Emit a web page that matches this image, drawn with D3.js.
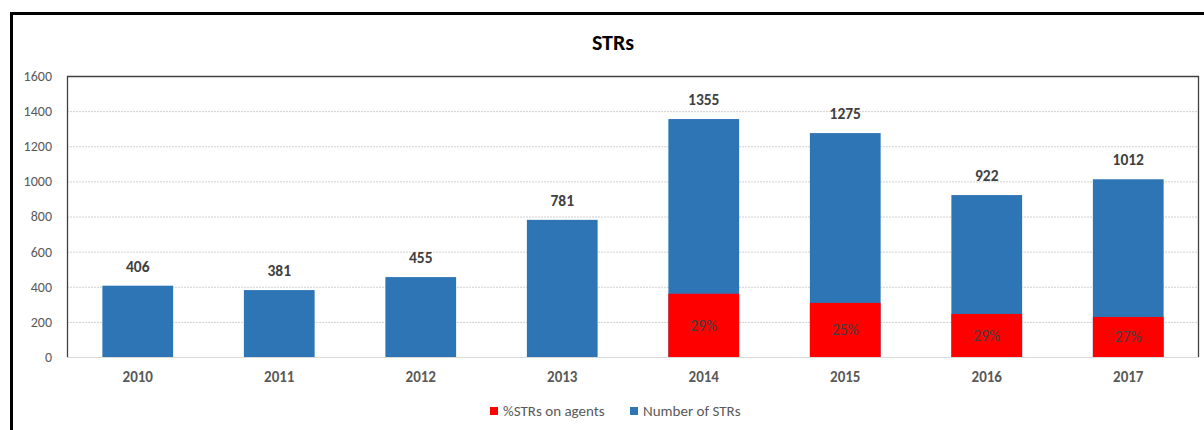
<!DOCTYPE html>
<html>
<head>
<meta charset="utf-8">
<script src="https://cdn.jsdelivr.net/npm/d3@7"></script>
<style>
  body { margin: 0; background: #fff; }
  svg text { font-family: Calibri, Carlito, Lato, "Open Sans", sans-serif; }
</style>
</head>
<body>
<div id="chart"></div>
<script>
const years = ['2010', '2011', '2012', '2013', '2014', '2015', '2016', '2017'];
const strCounts = [406, 381, 455, 781, 1355, 1275, 922, 1012];
// red part is drawn at the height shown in the picture, labelled with the percentage
const agentValues = [0, 0, 0, 0, 360, 308, 245, 228];
const agentLabels = ['', '', '', '', '29%', '25%', '29%', '27%'];
const yTicks = [0, 200, 400, 600, 800, 1000, 1200, 1400, 1600];

const W = 1204, H = 430;
const plot = {left: 67, right: 1199, top: 76, bottom: 357};
const font = 'Calibri, Carlito, Lato, "Open Sans", sans-serif';

const svg = d3.select('#chart').append('svg')
  .attr('width', W)
  .attr('height', H);

// outer frame (black, top and left only)
svg.append('rect').attr('x', 10).attr('y', 12).attr('width', W - 10).attr('height', 3).attr('fill', '#000');
svg.append('rect').attr('x', 10).attr('y', 12).attr('width', 3).attr('height', H - 12).attr('fill', '#000');

svg.append('text')
  .attr('x', 613)
  .attr('y', 50)
  .attr('text-anchor', 'middle')
  .attr('font-size', 22)
  .attr('font-weight', 'bold')
  .attr('fill', '#000')
  .text('STRs');

const x = d3.scaleBand()
  .domain(years)
  .range([plot.left, plot.right])
  .paddingInner(0.5)
  .paddingOuter(0.25);

const y = d3.scaleLinear()
  .domain([0, 1600])
  .range([plot.bottom, plot.top]);

// gridlines
svg.append('g')
  .selectAll('line')
  .data(yTicks.filter(d => d > 0 && d < 1600))
  .join('line')
  .attr('x1', plot.left)
  .attr('x2', plot.right)
  .attr('y1', d => y(d) + 0.5)
  .attr('y2', d => y(d) + 0.5)
  .attr('stroke', '#d0d0d0')
  .attr('stroke-dasharray', '2,1');

// y axis labels
const yAxis = d3.axisLeft(y).tickValues(yTicks).tickFormat(d3.format('d')).tickSize(0).tickPadding(15);
const gy = svg.append('g')
  .attr('transform', `translate(${plot.left},0)`)
  .call(yAxis);
gy.select('.domain').remove();
gy.selectAll('text')
  .attr('font-size', 14)
  .attr('fill', '#595959')
  .style('font-family', font);

// bars
svg.append('g')
  .selectAll('rect')
  .data(strCounts)
  .join('rect')
  .attr('x', (d, i) => x(years[i]))
  .attr('y', d => y(d))
  .attr('width', x.bandwidth())
  .attr('height', d => plot.bottom - y(d))
  .attr('fill', '#2E75B6');

svg.append('g')
  .selectAll('rect')
  .data(agentValues)
  .join('rect')
  .attr('x', (d, i) => x(years[i]))
  .attr('y', d => y(d))
  .attr('width', x.bandwidth())
  .attr('height', d => plot.bottom - y(d))
  .attr('fill', '#FF0000');

// value labels
svg.append('g')
  .selectAll('text')
  .data(strCounts)
  .join('text')
  .attr('x', (d, i) => x(years[i]) + x.bandwidth() / 2)
  .attr('y', d => y(d) - 14)
  .attr('text-anchor', 'middle')
  .attr('font-size', 15.5)
  .attr('font-weight', 'bold')
  .attr('fill', '#404040')
  .text(d => d);

svg.append('g')
  .selectAll('text')
  .data(agentValues)
  .join('text')
  .attr('x', (d, i) => x(years[i]) + x.bandwidth() / 2)
  .attr('y', d => (y(d) + plot.bottom) / 2 + 5.5)
  .attr('text-anchor', 'middle')
  .attr('font-size', 15.5)
  .attr('fill', '#404040')
  .text((d, i) => agentLabels[i]);

// plot frame: dark on left/top/right, light baseline
svg.append('path')
  .attr('d', `M${plot.left + 0.5},${plot.bottom}V${plot.top + 0.5}H${plot.right - 0.5}V${plot.bottom}`)
  .attr('fill', 'none')
  .attr('stroke', '#404040')
  .attr('stroke-width', 1.3);
svg.append('line')
  .attr('x1', plot.left)
  .attr('x2', plot.right)
  .attr('y1', plot.bottom + 0.5)
  .attr('y2', plot.bottom + 0.5)
  .attr('stroke', '#d9d9d9');

// category labels
const xAxis = d3.axisBottom(x).tickSize(0).tickPadding(14);
const gx = svg.append('g')
  .attr('transform', `translate(0,${plot.bottom})`)
  .call(xAxis);
gx.select('.domain').remove();
gx.selectAll('text')
  .attr('font-size', 15)
  .attr('font-weight', 'bold')
  .attr('fill', '#595959')
  .style('font-family', font);

// legend
const legend = [
  {label: '%STRs on agents', color: '#FF0000', x: 490},
  {label: 'Number of STRs', color: '#2E75B6', x: 630}
];
const lg = svg.append('g').selectAll('g')
  .data(legend)
  .join('g')
  .attr('transform', d => `translate(${d.x},407)`);
lg.append('rect')
  .attr('width', 8)
  .attr('height', 8)
  .attr('fill', d => d.color);
lg.append('text')
  .attr('x', 13)
  .attr('y', 9)
  .attr('font-size', 15)
  .attr('fill', '#595959')
  .text(d => d.label);
</script>
</body>
</html>
